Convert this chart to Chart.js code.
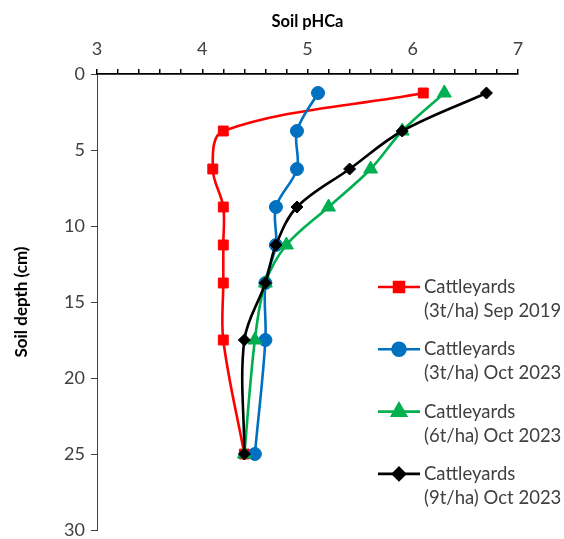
<!DOCTYPE html>
<html>
<head>
<meta charset="utf-8">
<script src="https://cdn.jsdelivr.net/npm/chart.js@4/dist/chart.umd.min.js"></script>
<style>
  html, body { margin: 0; padding: 0; background: #fff; }
  canvas { display: block; }
</style>
</head>
<body>
<canvas id="c" width="564" height="539"></canvas>
<script>
// Sampling depths (cm, mid-point of each layer)
const depths = [1.25, 3.75, 6.25, 8.75, 11.25, 13.75, 17.5, 25];

// Soil pH (CaCl2) per depth
const phSep2019_3t = [6.1, 4.2, 4.1, 4.2, 4.2, 4.2, 4.2, 4.4];
const phOct2023_3t = [5.1, 4.9, 4.9, 4.7, 4.7, 4.6, 4.6, 4.5];
const phOct2023_6t = [6.3, 5.9, 5.6, 5.2, 4.8, 4.6, 4.5, 4.4];
const phOct2023_9t = [6.7, 5.9, 5.4, 4.9, 4.7, 4.6, 4.4, 4.4];

const seriesLabels = [
  ['Cattleyards', '(3t/ha) Sep 2019'],
  ['Cattleyards', '(3t/ha) Oct 2023'],
  ['Cattleyards', '(6t/ha) Oct 2023'],
  ['Cattleyards', '(9t/ha) Oct 2023']
];

const xTickValues = [3, 4, 5, 6, 7];
const yTickValues = [0, 5, 10, 15, 20, 25, 30];

const FONT = 'Lato, "Open Sans", sans-serif';
Chart.defaults.font.family = FONT;

function toPoints(values) {
  return values.map((v, i) => ({ x: v, y: depths[i] }));
}

function series(label, values, color, style, radius, order) {
  return {
    label: label,
    data: toPoints(values),
    showLine: true,
    borderColor: color,
    backgroundColor: color,
    borderWidth: 2.6,
    tension: 0.35,
    pointStyle: style,
    pointRadius: radius,
    pointHoverRadius: radius,
    pointBorderWidth: 1,
    order: order
  };
}

const datasets = [
  series(seriesLabels[0], phSep2019_3t, '#FF0000', 'rect', 7, 3),
  series(seriesLabels[1], phOct2023_3t, '#0070C0', 'circle', 6.5, 2),
  series(seriesLabels[2], phOct2023_6t, '#00B050', 'triangle', 8, 1),
  series(seriesLabels[3], phOct2023_9t, '#000000', 'rectRot', 6, 0)
];

// Legend drawn at the right side, over the empty part of the plot
const sideLegend = {
  id: 'sideLegend',
  afterDraw(chart) {
    const ctx = chart.ctx;
    const x0 = 378, x1 = 420, tx = 424;
    const top = 287, gap = 62.3, lineGap = 24;
    ctx.save();
    chart.data.datasets.forEach((ds, i) => {
      const y = top + i * gap;
      ctx.strokeStyle = ds.borderColor;
      ctx.lineWidth = ds.borderWidth;
      ctx.beginPath();
      ctx.moveTo(x0, y);
      ctx.lineTo(x1, y);
      ctx.stroke();
      ctx.fillStyle = ds.backgroundColor;
      Chart.helpers.drawPoint(ctx, {
        pointStyle: ds.pointStyle,
        radius: ds.pointRadius,
        rotation: 0,
        borderWidth: 1
      }, (x0 + x1) / 2, y);
      ctx.fillStyle = '#404040';
      ctx.font = '18.5px ' + FONT;
      ctx.textBaseline = 'middle';
      ctx.textAlign = 'left';
      ds.label.forEach((line, k) => ctx.fillText(line, tx, y + k * lineGap));
    });
    ctx.restore();
  }
};

new Chart(document.getElementById('c'), {
  type: 'scatter',
  data: { datasets: datasets },
  plugins: [sideLegend],
  options: {
    responsive: false,
    animation: false,
    devicePixelRatio: 1,
    layout: { padding: { top: 0, left: 0, right: 46, bottom: 9 } },
    plugins: {
      legend: { display: false },
      tooltip: { enabled: false }
    },
    scales: {
      x: {
        type: 'linear',
        position: 'top',
        min: 3,
        max: 7,
        afterFit(scale) {
          scale.height = 74;
          scale.paddingLeft = 0;
          scale.paddingRight = 0;
        },
        afterBuildTicks(scale) {
          const t = [];
          for (let k = 0; k <= 20; k++) t.push({ value: 3 + k * 0.2 });
          scale.ticks = t;
        },
        ticks: {
          autoSkip: false,
          maxRotation: 0,
          padding: 9,
          color: '#404040',
          font: { size: 18 },
          callback(v) {
            const r = Math.round(v);
            return xTickValues.some(n => Math.abs(n - v) < 1e-6) ? String(r) : '';
          }
        },
        grid: {
          drawOnChartArea: false,
          drawTicks: true,
          tickLength: 5,
          color: '#000000',
          lineWidth: 1.5
        },
        border: { display: true, color: '#000000', width: 1.8 },
        title: {
          display: true,
          text: 'Soil pHCa',
          color: '#000000',
          font: { size: 16.5, weight: 'bold' },
          padding: { top: 12, bottom: 0 }
        }
      },
      y: {
        type: 'linear',
        reverse: true,
        min: 0,
        max: 30,
        afterFit(scale) {
          scale.width = 97;
          scale.paddingTop = 0;
          scale.paddingBottom = 0;
        },
        afterBuildTicks(scale) {
          scale.ticks = yTickValues.map(v => ({ value: v }));
        },
        ticks: {
          padding: 6,
          color: '#404040',
          font: { size: 18 }
        },
        grid: {
          drawOnChartArea: false,
          drawTicks: true,
          tickLength: 6,
          color: '#404040',
          lineWidth: 1
        },
        border: { display: true, color: '#404040', width: 1 },
        title: {
          display: true,
          text: 'Soil depth (cm)',
          color: '#000000',
          font: { size: 17, weight: 'bold' },
          padding: { top: 11, bottom: 0 }
        }
      }
    }
  }
});
</script>
</body>
</html>
